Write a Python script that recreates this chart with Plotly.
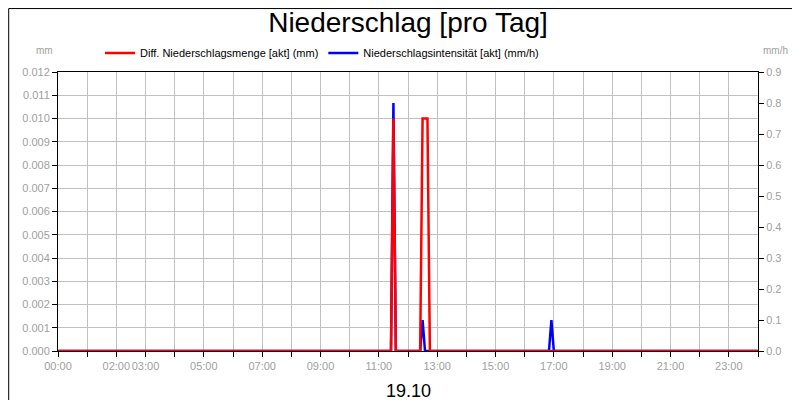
import plotly.graph_objects as go

# hours of day (decimal) and values
red_x = [0, 11 + 25/60, 11.5, 11 + 35/60, 12 + 25/60, 12.5, 12 + 40/60, 12 + 45/60, 24]
red_y = [0, 0, 0.010, 0, 0, 0.010, 0.010, 0, 0]
blue_x = [0, 11 + 25/60, 11.5, 11 + 35/60, 12 + 25/60, 12.5, 12 + 35/60, 16 + 50/60, 16 + 55/60, 17, 24]
blue_y = [0, 0, 0.8, 0, 0, 0.1, 0, 0, 0.1, 0, 0]
labeled_hours = {0: "00:00", 2: "02:00", 3: "03:00", 5: "05:00", 7: "07:00", 9: "09:00", 11: "11:00",
                 13: "13:00", 15: "15:00", 17: "17:00", 19: "19:00", 21: "21:00", 23: "23:00"}
left_ticks = [i / 1000 for i in range(13)]
right_ticks = [i / 10 for i in range(10)]

gray = "#a0a0a0"
fig = go.Figure()
fig.add_trace(go.Scatter(x=blue_x, y=blue_y, mode="lines", line=dict(color="#0000ff", width=2.5),
                         name="Niederschlagsintensität [akt] (mm/h)", yaxis="y"))
fig.add_trace(go.Scatter(x=red_x, y=red_y, mode="lines", line=dict(color="#ff0000", width=2.5),
                         name="Diff. Niederschlagsmenge [akt] (mm)", yaxis="y2"))

fig.update_layout(
    width=800, height=400, plot_bgcolor="white", paper_bgcolor="white",
    margin=dict(l=50, r=50, t=64, b=57, autoexpand=False),
    font=dict(family="Liberation Sans, Arial", size=11, color="black"),
    title=dict(text="Niederschlag [pro Tag]", x=0.5, xanchor="center", y=0.99, yanchor="top",
               font=dict(size=28, color="black")),
    showlegend=True, legend=dict(orientation="h", x=0.06, y=1.068, xanchor="left", yanchor="middle",
                                 font=dict(size=11), traceorder="reversed", itemwidth=30,
                                 bgcolor="rgba(0,0,0,0)"),
    xaxis=dict(range=[0, 24], tickvals=list(range(25)), automargin=False, tickangle=0,
               ticktext=[labeled_hours.get(h, "") for h in range(25)],
               showgrid=True, gridcolor="#c0c0c0", gridwidth=1, ticks="outside", ticklen=5,
               tickcolor="black", tickfont=dict(color=gray, size=11),
               showline=True, linecolor="black", mirror=True, zeroline=False),
    yaxis=dict(range=[0, 0.9], tickvals=right_ticks, tickformat=".1f", side="right", automargin=False,
               showgrid=False, ticks="outside", ticklen=5, tickcolor="black",
               tickfont=dict(color=gray, size=11), showline=True, linecolor="black", zeroline=False),
    yaxis2=dict(range=[0, 0.012], tickvals=left_ticks, tickformat=".3f", showgrid=True,
                overlaying="y", side="left", automargin=False,
                gridcolor="#c0c0c0", ticks="outside", ticklen=5, tickcolor="black",
                tickfont=dict(color=gray, size=11), showline=True, linecolor="black", zeroline=False),
    annotations=[
        dict(text="19.10", x=0.5, y=-0.1, xref="paper", yref="paper", showarrow=False,
             yanchor="top", font=dict(size=18, color="black")),
        dict(text="mm", x=-0.005, y=1.05, xref="paper", yref="paper", showarrow=False,
             xanchor="right", yanchor="bottom", font=dict(size=10, color=gray)),
        dict(text="mm/h", x=1.005, y=1.05, xref="paper", yref="paper", showarrow=False,
             xanchor="left", yanchor="bottom", font=dict(size=10, color=gray)),
    ],
    shapes=[dict(type="rect", xref="paper", yref="paper", x0=-50/700 + 0.001, x1=1 + 50/700 - 0.001,
                 y0=-57/279 + 0.002, y1=1 + 64/279 - 0.002, line=dict(color="black", width=1))],
)
fig.write_html("out.html")
